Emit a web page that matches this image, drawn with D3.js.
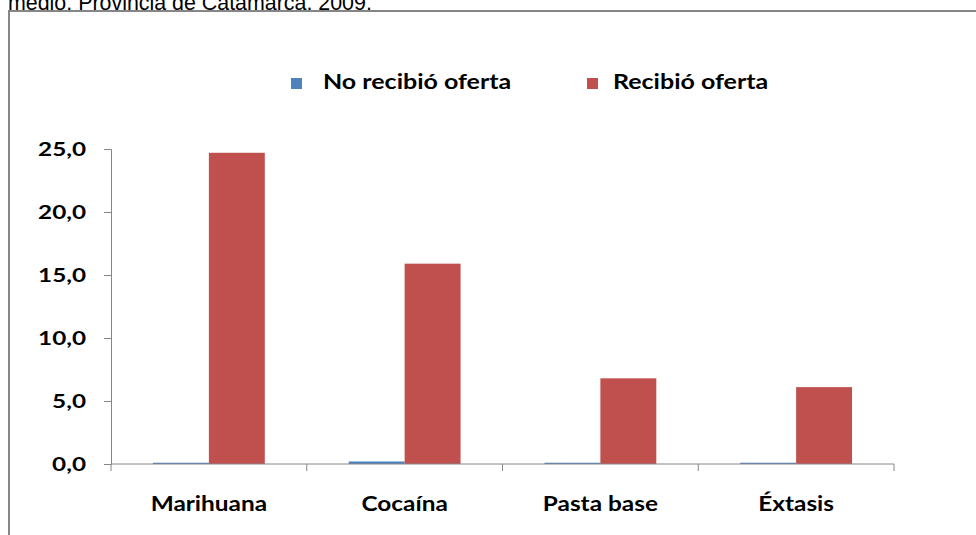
<!DOCTYPE html>
<html><head><meta charset="utf-8">
<script src="https://cdn.jsdelivr.net/npm/d3@7"></script>
<style>
html,body{margin:0;padding:0;background:#fff;overflow:hidden}
svg{display:block}
</style></head>
<body>
<script>
const categories = ["Marihuana", "Cocaína", "Pasta base", "Éxtasis"];
const seriesNames = ["No recibió oferta", "Recibió oferta"];
const noRecibio = [0.1, 0.2, 0.1, 0.1];
const recibio = [24.7, 15.9, 6.8, 6.1];
const yTicks = [0, 5, 10, 15, 20, 25];
const colors = ["#4F81BD", "#C0504D"];
const titleText = "medio. Provincia de Catamarca. 2009.";

const W = 976, H = 535;
const svg = d3.select("body").append("svg").attr("width", W).attr("height", H);

// cropped caption at top
svg.append("text").attr("x", 8).attr("y", 10)
  .attr("font-family", "Liberation Sans, Arial, sans-serif").attr("font-size", 21.4)
  .attr("fill", "#000").text(titleText);

// chart frame
svg.append("rect").attr("x", 9).attr("y", 11).attr("width", 980).attr("height", 540)
  .attr("fill", "none").attr("stroke", "#868686").attr("stroke-width", 2);

const pL = 111, pR = 894, pT = 149, pB = 464;
const x0 = d3.scaleBand().domain(categories).range([pL, pR]).paddingInner(0).paddingOuter(0);
const x1 = d3.scaleBand().domain(seriesNames).range([0, x0.bandwidth()]).paddingInner(0).paddingOuter(0.75);
const y = d3.scaleLinear().domain([0, 25]).range([pB, pT]);

const font = "Lato, 'Open Sans', sans-serif";
const axisColor = "#868686";

// y axis (line + ticks)
const yAxis = svg.append("g").attr("transform", `translate(${pL},0)`)
  .call(d3.axisLeft(y).tickValues(yTicks).tickSize(7).tickFormat(""));
yAxis.select(".domain").attr("stroke", axisColor);
yAxis.selectAll(".tick line").attr("stroke", axisColor);

// y tick labels, stretched horizontally like the reference
const fmt = d => d3.format(".1f")(d).replace(".", ",");
svg.append("g").selectAll("text").data(yTicks).join("text")
  .attr("transform", d => `translate(86,${y(d) + 7}) scale(1.35,1)`)
  .attr("text-anchor", "end").attr("font-family", font).attr("font-weight", "bold")
  .attr("font-size", 18).attr("fill", "#000").text(fmt);

// bars
const data = categories.map((c, i) => ({cat: c, vals: [noRecibio[i], recibio[i]]}));
const groups = svg.append("g").selectAll("g").data(data).join("g")
  .attr("transform", d => `translate(${x0(d.cat)},0)`);
groups.selectAll("rect").data(d => d.vals.map((v, j) => ({name: seriesNames[j], v, j})))
  .join("rect")
  .attr("x", d => x1(d.name))
  .attr("width", x1.bandwidth())
  .attr("y", d => y(d.v))
  .attr("height", d => y(0) - y(d.v))
  .attr("fill", d => colors[d.j]);

// x axis
const xAxisG = svg.append("g").attr("transform", `translate(0,${pB})`);
xAxisG.append("line").attr("x1", pL).attr("x2", pR).attr("y1", 0).attr("y2", 0)
  .attr("stroke", axisColor);
const bounds = categories.map(c => x0(c)).concat([pR]);
xAxisG.selectAll("line.t").data(bounds).join("line").attr("class", "t")
  .attr("x1", d => d).attr("x2", d => d).attr("y1", 0).attr("y2", 7).attr("stroke", axisColor);
xAxisG.selectAll("text").data(categories).join("text")
  .attr("transform", d => `translate(${x0(d) + x0.bandwidth() / 2},47) scale(1.22,1)`)
  .attr("text-anchor", "middle").attr("font-family", font).attr("font-weight", "bold")
  .attr("font-size", 20).attr("fill", "#000").text(d => d);

// legend
const legendPos = [{sx: 291, tx: 323}, {sx: 587, tx: 613}];
const lg = svg.append("g").selectAll("g").data(seriesNames).join("g");
lg.append("rect").attr("x", (d, i) => legendPos[i].sx).attr("y", 78)
  .attr("width", 11).attr("height", 11).attr("fill", (d, i) => colors[i]);
lg.append("text").attr("transform", (d, i) => `translate(${legendPos[i].tx},89) scale(1.25,1)`)
  .attr("font-family", font).attr("font-weight", "bold").attr("font-size", 20)
  .attr("fill", "#000").text(d => d);
</script>
</body></html>
